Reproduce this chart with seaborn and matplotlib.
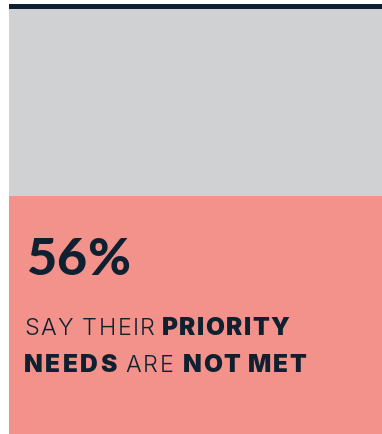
import matplotlib
matplotlib.use("Agg")
import matplotlib.pyplot as plt
import seaborn as sns
import pandas as pd

# Share of respondents whose priority needs are not met
segments = ["Needs met", "Not met"]
shares = [44, 56]
headline = "56%"
caption_lines = [
    [("SAY", 300), ("THEIR", 300), ("PRIORITY", 900)],
    [("NEEDS", 900), ("ARE", 300), ("NOT MET", 900)],
]

NAVY = "#0f2131"
GREY = "#d0d1d3"
SALMON = "#f2928a"

sns.set_theme(style="white")
plt.rcParams["font.family"] = ["Inter", "DejaVu Sans"]

W, H = 382, 434
fig = plt.figure(figsize=(W / 100, H / 100), dpi=100)
fig.patch.set_facecolor("white")

# axes spans from the top of the dark header strip down to the bottom edge
top_px, header_px, left_px = 4, 5, 9
ax = fig.add_axes([left_px / W, 0, (W - left_px) / W, (H - top_px) / H])

df = pd.DataFrame({"group": ["all"], "total": [sum(shares)], "not_met": [shares[1]]})
sns.barplot(data=df, x="group", y="total", color=GREY, width=1.0, saturation=1,
            linewidth=0, edgecolor="none", ax=ax)
sns.barplot(data=df, x="group", y="not_met", color=SALMON, width=1.0, saturation=1,
            linewidth=0, edgecolor="none", ax=ax)

total = sum(shares)
plot_px = H - top_px - header_px
ymax = total * (H - top_px) / plot_px
ax.axhspan(total, ymax, color=NAVY, lw=0)
ax.set_xlim(-0.5, 0.5)
ax.set_ylim(0, ymax)
ax.set_axis_off()

fig.canvas.draw()
renderer = fig.canvas.get_renderer()
_cache = {}


def text_width(s, weight, size, family):
    key = (s, weight, size, family)
    if key not in _cache:
        t = fig.text(0, 0, s, fontsize=size, fontweight=weight, family=list(family))
        _cache[key] = t.get_window_extent(renderer).width
        t.remove()
    return _cache[key]


def advance(c, weight, size, family):
    return text_width("H" + c + "H", weight, size, family) - text_width("HH", weight, size, family)


def spaced_word(x0, x1, base, s, weight, size, family):
    """Draw s letter by letter on baseline base, spread with even tracking from x0 to x1."""
    natural = text_width(s, weight, size, family)
    tracking = (x1 - x0 - natural) / max(len(s) - 1, 1)
    x = x0
    for c in s:
        if c != " ":
            fig.text(x / W, 1 - base / H, c, fontsize=size, fontweight=weight,
                     family=list(family), color=NAVY, va="baseline", ha="left")
        x += advance(c, weight, size, family) + tracking


# headline figure
spaced_word(26, 130, 275, headline, 900, 37.5, ("Lato", "DejaVu Sans"))

# caption words with mixed weights: (start, end) of each word in pixels
caption_spans = [
    [(24, 73), (82, 155), (162, 289)],
    [(24, 117), (125, 174), (183, 306)],
]
caption_size = {300: 16.8, 900: 17.6}
baselines = [335, 372]
for words, spans, base in zip(caption_lines, caption_spans, baselines):
    for (s, weight), (x0, x1) in zip(words, spans):
        spaced_word(x0, x1, base, s, weight, caption_size[weight], ("Inter", "DejaVu Sans"))

fig.savefig("out.png", dpi=100, facecolor="white")
